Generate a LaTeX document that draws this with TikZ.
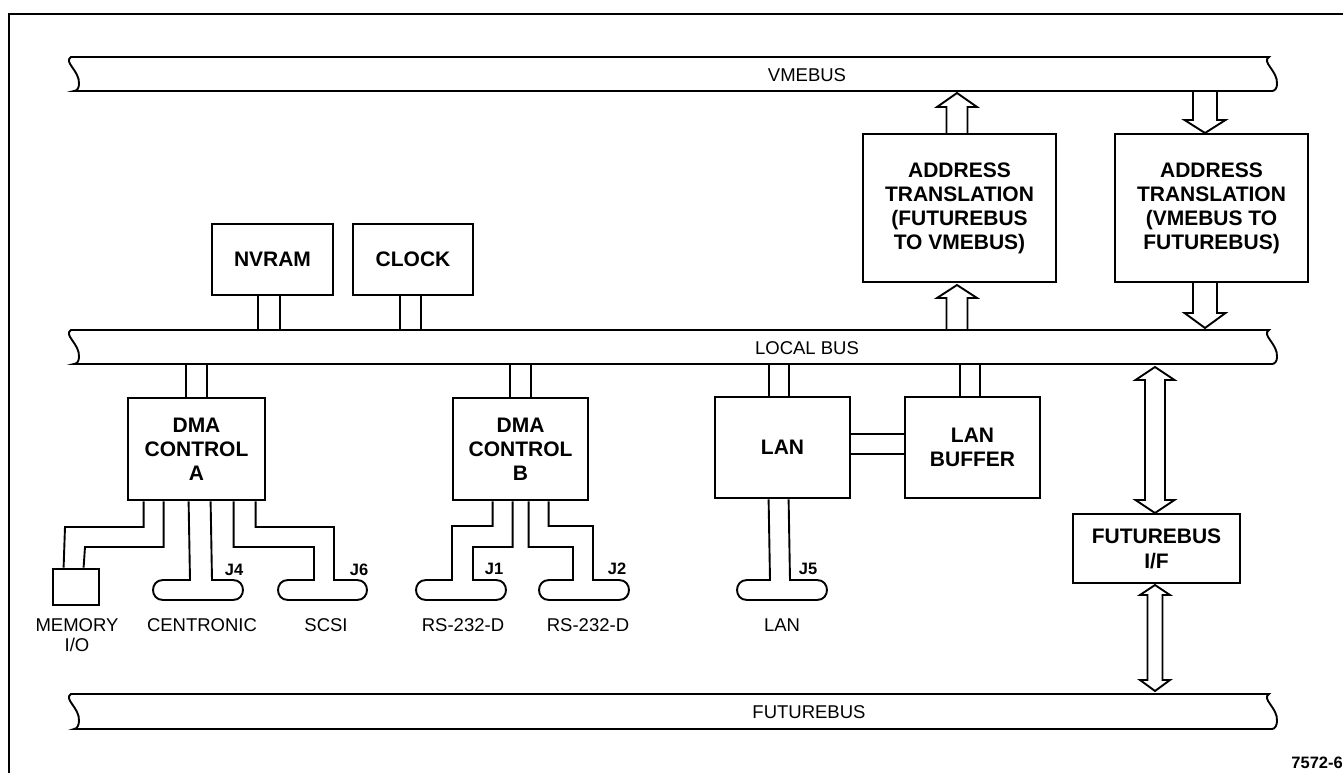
\documentclass[tikz,border=0pt]{standalone}
\usepackage{fontspec}
\setmainfont{Liberation Sans}
\tikzset{
  box/.style={draw, line width=2.8pt, align=center, inner sep=0pt,
    font=\fontsize{21}{24}\selectfont\bfseries},
  wire/.style={line width=1.9pt, line join=miter},
  frame/.style={line width=2.6pt},
  lbl/.style={inner sep=0pt, align=center, font=\fontsize{18.5}{20.5}\selectfont},
  jlbl/.style={inner sep=0pt, font=\fontsize{16.5}{17}\selectfont\bfseries},
}
% bus outline: #1 top y, #2 bottom y
\newcommand\drawbusshape[2]{%
  \draw[wire] (71,#1) -- (1269,#1)
    .. controls (1261,{#1+5}) and (1278,{#1+14}) .. (1277,{#1+27})
    .. controls (1277,{#1+31}) and (1275,#2) .. (1272,#2)
    -- (74,#2)
    .. controls (77,#2) and (79,{#1+31}) .. (79,{#1+27})
    .. controls (80,{#1+14}) and (63,{#1+5}) .. (71,#1) -- cycle;}
% open block arrow: cx, shaft half width, head half width, tip y, head base y, end y
\newcommand\blockarrow[6]{%
  \draw[wire] ({#1-#2},#6) -- ({#1-#2},#5) -- ({#1-#3},#5) -- (#1,#4)
    -- ({#1+#3},#5) -- ({#1+#2},#5) -- ({#1+#2},#6);}
% double block arrow: cx, shaft hw, head hw, tip1, base1, base2, tip2
\newcommand\dblarrow[7]{%
  \draw[wire] (#1,#4) -- ({#1+#3},#5) -- ({#1+#2},#5) -- ({#1+#2},#6)
    -- ({#1+#3},#6) -- (#1,#7) -- ({#1-#3},#6) -- ({#1-#2},#6)
    -- ({#1-#2},#5) -- ({#1-#3},#5) -- cycle;}
\begin{document}
\begin{tikzpicture}[x=1pt,y=-1pt]
\useasboundingbox (0,0) rectangle (1343,773);
\fill[white] (0,0) rectangle (1343,773);
% outer frame (cut at right and bottom)
\draw[frame] (9,773) -- (9,14) -- (1343,14);

% buses
\drawbusshape{57}{91}
\drawbusshape{330}{364}
\drawbusshape{694}{729}
\node[lbl] (vmelbl) at (807,75) {VMEBUS};
\node[lbl] (locallbl) at (807,348) {LOCAL BUS};
\node[lbl] (futlbl) at (809,712) {FUTUREBUS};
\coordinate (vmebot) at (0,91);
\coordinate (loctop) at (0,330);
\coordinate (locbot) at (0,364);
\coordinate (futtop) at (0,694);

% boxes
\node[box, minimum width=121, minimum height=71] (nvram) at (272.5,259.5) {NVRAM};
\node[box, minimum width=120, minimum height=71] (clock) at (413,259.5) {CLOCK};
\node[box, minimum width=193, minimum height=148] (addr1) at (959.5,208)
  {ADDRESS\\TRANSLATION\\(FUTUREBUS\\TO VMEBUS)};
\node[box, minimum width=193, minimum height=148] (addr2) at (1211.5,208)
  {ADDRESS\\TRANSLATION\\(VMEBUS TO\\FUTUREBUS)};
\node[box, minimum width=137, minimum height=102] (dmaA) at (196.5,449) {DMA\\CONTROL\\A};
\node[box, minimum width=135, minimum height=102] (dmaB) at (520.5,449) {DMA\\CONTROL\\B};
\node[box, minimum width=135, minimum height=101] (lan) at (782.5,447.5) {LAN};
\node[box, minimum width=135, minimum height=101] (lanbuf) at (972.5,447.5) {LAN\\BUFFER};
\node[box, minimum width=167, minimum height=69, font=\fontsize{21}{25}\selectfont\bfseries]
  (fif) at (1156.5,548.5) {FUTUREBUS\\I/F};
\node[draw, line width=2.8pt, minimum width=46, minimum height=36, inner sep=0pt]
  (mem) at (76,587) {};

% stubs to local bus
\foreach \n/\a/\b in {nvram/47/69, clock/48/69}{
  \draw[wire] ([xshift=\a]\n.south west) -- ([xshift=\a]\n.south west |- loctop);
  \draw[wire] ([xshift=\b]\n.south west) -- ([xshift=\b]\n.south west |- loctop);
}
\foreach \n/\a/\b in {dmaA/59/80, dmaB/58/79, lan/55/75, lanbuf/56/76}{
  \draw[wire] ([xshift=\a]\n.north west) -- ([xshift=\a]\n.north west |- locbot);
  \draw[wire] ([xshift=\b]\n.north west) -- ([xshift=\b]\n.north west |- locbot);
}
% LAN to LAN buffer
\draw[wire] (lan.east |- 0,434) -- (lanbuf.west |- 0,434);
\draw[wire] (lan.east |- 0,454) -- (lanbuf.west |- 0,454);

% block arrows
\blockarrow{957}{10.5}{20}{93}{107}{134}
\blockarrow{957}{10.5}{20}{285}{298}{330}
\blockarrow{1205}{12}{20.5}{133}{120}{91}
\blockarrow{1205}{12}{20.5}{328}{313}{282}
\dblarrow{1155}{10}{19.5}{367}{380}{500}{513}
\dblarrow{1155}{7.5}{15}{585}{595}{680}{691}

% DMA A connections
\draw[wire] ([xshift=17]dmaA.south west) |- (65,527) -- ([xshift=12]mem.north west);
\draw[wire] ([xshift=37]dmaA.south west) |- (85,547) -- ([xshift=32]mem.north west);
\draw[wire] ([xshift=62]dmaA.south west) -- (190,580) -- (163,580)
  .. controls (149.7,580) and (149.7,600) .. (163,600) -- (233,600)
  .. controls (246.3,600) and (246.3,580) .. (233,580) -- (212,580)
  -- ([xshift=84]dmaA.south west);
\draw[wire] ([xshift=107]dmaA.south west) |- (314,547) -- (314,580) -- (288,580)
  .. controls (274.7,580) and (274.7,600) .. (288,600) -- (357,600)
  .. controls (370.3,600) and (370.3,580) .. (357,580) -- (334,580) -- (334,527)
  -| ([xshift=129]dmaA.south west);

% DMA B connections
\draw[wire] ([xshift=41]dmaB.south west) |- (452,526) -- (452,580) -- (426,580)
  .. controls (412.7,580) and (412.7,600) .. (426,600) -- (496,600)
  .. controls (509.3,600) and (509.3,580) .. (496,580) -- (473,580) -- (473,547)
  -| ([xshift=61]dmaB.south west);
\draw[wire] ([xshift=77]dmaB.south west) |- (573,547) -- (573,580) -- (549,580)
  .. controls (535.7,580) and (535.7,600) .. (549,600) -- (619,600)
  .. controls (632.3,600) and (632.3,580) .. (619,580) -- (593,580) -- (593,526)
  -| ([xshift=97]dmaB.south west);

% LAN connection
\draw[wire] ([xshift=55]lan.south west) -- (770,580) -- (747,580)
  .. controls (733.7,580) and (733.7,600) .. (747,600) -- (817,600)
  .. controls (830.3,600) and (830.3,580) .. (817,580) -- (790,580)
  -- ([xshift=75]lan.south west);

% connector labels
\node[jlbl] (j4) at (234,570) {J4};
\node[jlbl] (j6) at (359,570) {J6};
\node[jlbl] (j1) at (494,569) {J1};
\node[jlbl] (j2) at (617,569) {J2};
\node[jlbl] (j5) at (808,569) {J5};
\node[lbl] (memlbl) at (77,635) {MEMORY\\I/O};
\node[lbl] (cenlbl) at (202,625) {CENTRONIC};
\node[lbl] (scsilbl) at (326,625) {SCSI};
\node[lbl] (rs1lbl) at (463,625) {RS-232-D};
\node[lbl] (rs2lbl) at (588,625) {RS-232-D};
\node[lbl] (lanlbl) at (782,625) {LAN};
\node[jlbl, anchor=east] (fignum) at (1343,763) {7572-6};
\end{tikzpicture}
\end{document}
